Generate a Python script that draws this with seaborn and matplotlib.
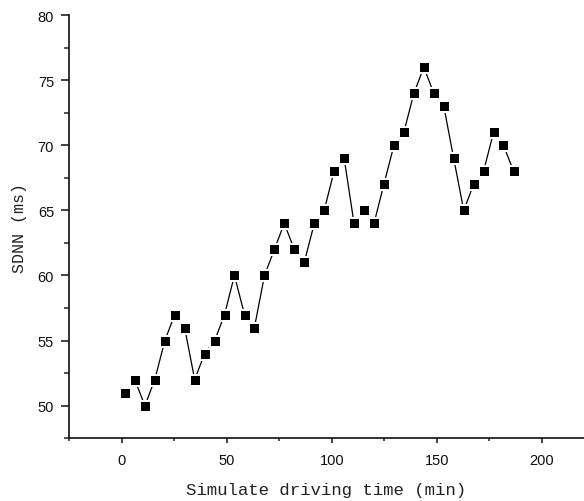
import matplotlib
matplotlib.use("Agg")
import matplotlib.pyplot as plt
from matplotlib.ticker import MultipleLocator
import seaborn as sns
import pandas as pd

time_min = [1.6, 6.3, 11.1, 15.8, 20.6, 25.3, 30.0, 34.8, 39.5, 44.3,
            49.0, 53.7, 58.5, 63.2, 68.0, 72.7, 77.4, 82.2, 86.9, 91.7,
            96.4, 101.1, 105.9, 110.6, 115.4, 120.1, 124.8, 129.6, 134.3, 139.1,
            143.8, 148.5, 153.3, 158.0, 162.8, 167.5, 172.2, 177.0, 181.7, 186.5]
sdnn_ms = [51, 52, 50, 52, 55, 57, 56, 52, 54, 55,
           57, 60, 57, 56, 60, 62, 64, 62, 61, 64,
           65, 68, 69, 64, 65, 64, 67, 70, 71, 74,
           76, 74, 73, 69, 65, 67, 68, 71, 70, 68]
x_ticks = [0, 50, 100, 150, 200]
y_ticks = [50, 55, 60, 65, 70, 75, 80]

df = pd.DataFrame({"time": time_min, "sdnn": sdnn_ms})

sns.set_style("ticks")
plt.rcParams["font.family"] = ["Liberation Sans", "DejaVu Sans"]

dpi = 100
fig = plt.figure(figsize=(5.84, 5.02), dpi=dpi)
ax = fig.add_axes([69 / 584, 1 - 439.3 / 502, 1 - 69 / 584, (439.3 - 16) / 502])

px = 72 / dpi
sns.lineplot(data=df, x="time", y="sdnn", ax=ax, color="black",
             linewidth=0.9, marker="s", markersize=11 * px,
             markerfacecolor="black", markeredgecolor="white",
             markeredgewidth=2 * px, estimator=None)

ax.set_xlim(-25, 220)
ax.set_ylim(47.5, 80)
ax.set_xticks(x_ticks)
ax.set_yticks(y_ticks)
ax.xaxis.set_minor_locator(MultipleLocator(25))
ax.yaxis.set_minor_locator(MultipleLocator(2.5))

for s in ["top", "right"]:
    ax.spines[s].set_visible(False)
for s in ["left", "bottom"]:
    ax.spines[s].set_linewidth(1.2)
    ax.spines[s].set_color("#111111")

ax.tick_params(axis="x", which="major", direction="out", length=5 * px, width=1.1,
               pad=7, labelsize=10.5, colors="#111111")
ax.tick_params(axis="x", which="minor", direction="out", length=3 * px, width=1.1)
ax.tick_params(axis="y", which="major", direction="out", length=8 * px, width=1.1,
               pad=5, labelsize=10.5, colors="#111111")
ax.tick_params(axis="y", which="minor", direction="out", length=5 * px, width=1.1)

ax.set_xlabel("Simulate driving time (min)", family=["Liberation Mono"],
              fontsize=12.5, labelpad=11, color="#222222")
ax.set_ylabel("SDNN (ms)", family=["Liberation Mono"], fontsize=12,
              labelpad=8, color="#222222")

fig.savefig("out.png", dpi=dpi)
